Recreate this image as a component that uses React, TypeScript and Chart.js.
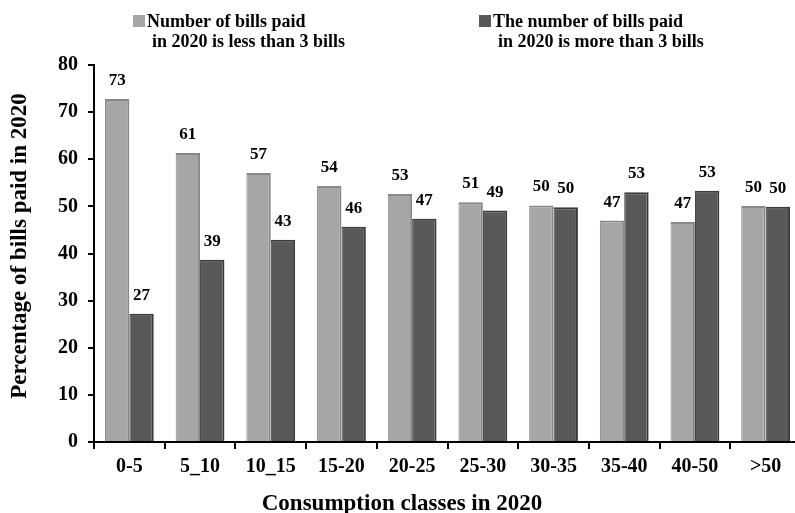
import React, { useEffect, useRef } from "react";
import { Chart, registerables } from "chart.js";

Chart.register(...registerables);

const categories = ["0-5", "5_10", "10_15", "15-20", "20-25", "25-30", "30-35", "35-40", "40-50", ">50"];
const lessThan3 = [72.8, 61.3, 57.1, 54.3, 52.6, 50.9, 50.2, 47.0, 46.7, 50.1];
const moreThan3 = [27.2, 38.7, 42.9, 45.7, 47.4, 49.1, 49.8, 53.0, 53.3, 49.9];
const seriesNames = [
  ["Number of bills paid", "in 2020 is less than 3 bills"],
  ["The number of bills paid", "in 2020 is more than 3 bills"],
];
const yTicks = [0, 10, 20, 30, 40, 50, 60, 70, 80];
const xTitle = "Consumption classes in 2020";
const yTitle = "Percentage of bills paid in 2020";

const FONT = "'Liberation Serif', 'Times New Roman', serif";
const LIGHT = "#a6a6a6";
const DARK = "#595959";

const valueLabels = {
  id: "valueLabels",
  afterDatasetsDraw(chart: any) {
    const ctx = chart.ctx;
    ctx.save();
    ctx.font = `bold 17px ${FONT}`;
    ctx.fillStyle = "#000";
    ctx.textAlign = "center";
    ctx.textBaseline = "alphabetic";
    chart.data.datasets.forEach((ds: any, di: number) => {
      const meta = chart.getDatasetMeta(di);
      meta.data.forEach((bar: any, i: number) => {
        ctx.fillText(String(Math.round(ds.data[i])), bar.x, bar.y - 14);
      });
    });
    ctx.restore();
  },
};

const topLegendAndTitles = {
  id: "topLegendAndTitles",
  afterDraw(chart: any) {
    const ctx = chart.ctx;
    ctx.save();
    const items = [
      { sq: 133, x1: 147, x2: 152 },
      { sq: 479, x1: 493, x2: 498 },
    ];
    ctx.font = `bold 18px ${FONT}`;
    ctx.textAlign = "left";
    ctx.textBaseline = "alphabetic";
    items.forEach((it, i) => {
      const ds = chart.data.datasets[i];
      ctx.fillStyle = ds.backgroundColor;
      ctx.fillRect(it.sq, 15, 12, 12);
      ctx.fillStyle = "#000";
      ctx.fillText(ds.label[0], it.x1, 27);
      ctx.fillText(ds.label[1], it.x2, 47);
    });
    // axis titles
    ctx.font = `bold 23px ${FONT}`;
    ctx.textAlign = "center";
    ctx.fillText(xTitle, 402, 510);
    ctx.translate(26, 246);
    ctx.rotate(-Math.PI / 2);
    ctx.fillText(yTitle, 0, 0);
    ctx.restore();
  },
};

export default function App() {
  const ref = useRef<HTMLCanvasElement>(null);
  useEffect(() => {
    document.body.style.margin = "0";
    const chart = new Chart(ref.current as HTMLCanvasElement, {
      type: "bar",
      data: {
        labels: categories,
        datasets: [
          {
            label: seriesNames[0] as any,
            data: lessThan3,
            backgroundColor: LIGHT,
            borderColor: "#888888",
            borderWidth: { top: 2, right: 2, left: 1, bottom: 0 } as any,
            categoryPercentage: 0.69,
            barPercentage: 1,
          },
          {
            label: seriesNames[1] as any,
            data: moreThan3,
            backgroundColor: DARK,
            borderColor: "#3a3a3a",
            borderWidth: { top: 2, right: 2, left: 1, bottom: 0 } as any,
            categoryPercentage: 0.69,
            barPercentage: 1,
          },
        ],
      },
      options: {
        animation: false,
        responsive: true,
        maintainAspectRatio: false,
        layout: { padding: { top: 65, right: 1, left: 0, bottom: 0 } },
        plugins: {
          legend: { display: false },
          tooltip: { enabled: false },
        },
        scales: {
          x: {
            offset: true,
            afterFit: (s: any) => {
              s.height = 71;
            },
            grid: {
              display: true,
              offset: true,
              drawOnChartArea: false,
              drawTicks: true,
              tickLength: 7,
              color: "#000",
              lineWidth: 2,
            },
            border: { display: true, color: "#000", width: 2 },
            ticks: {
              color: "#000",
              font: { family: FONT, size: 20, weight: "bold" },
              padding: 6,
              maxRotation: 0,
              autoSkip: false,
            },
            title: { display: false },
          },
          y: {
            min: 0,
            max: 80,
            afterFit: (s: any) => {
              s.width = 94;
            },
            afterBuildTicks: (s: any) => {
              s.ticks = yTicks.map((v) => ({ value: v }));
            },
            grid: {
              display: true,
              drawOnChartArea: false,
              drawTicks: true,
              tickLength: 6,
              color: "#000",
              lineWidth: 2,
            },
            border: { display: true, color: "#000", width: 2 },
            ticks: {
              color: "#000",
              font: { family: FONT, size: 20, weight: "bold" },
              padding: 10,
            },
            title: { display: false },
          },
        },
      },
      plugins: [valueLabels, topLegendAndTitles],
    });
    return () => chart.destroy();
  }, []);
  return (
    <div style={{ width: 795, height: 513, overflow: "hidden", position: "relative", background: "#fff" }}>
      <div style={{ width: 802, height: 513, position: "absolute", left: 0, top: 0 }}>
        <canvas ref={ref} />
      </div>
    </div>
  );
}
